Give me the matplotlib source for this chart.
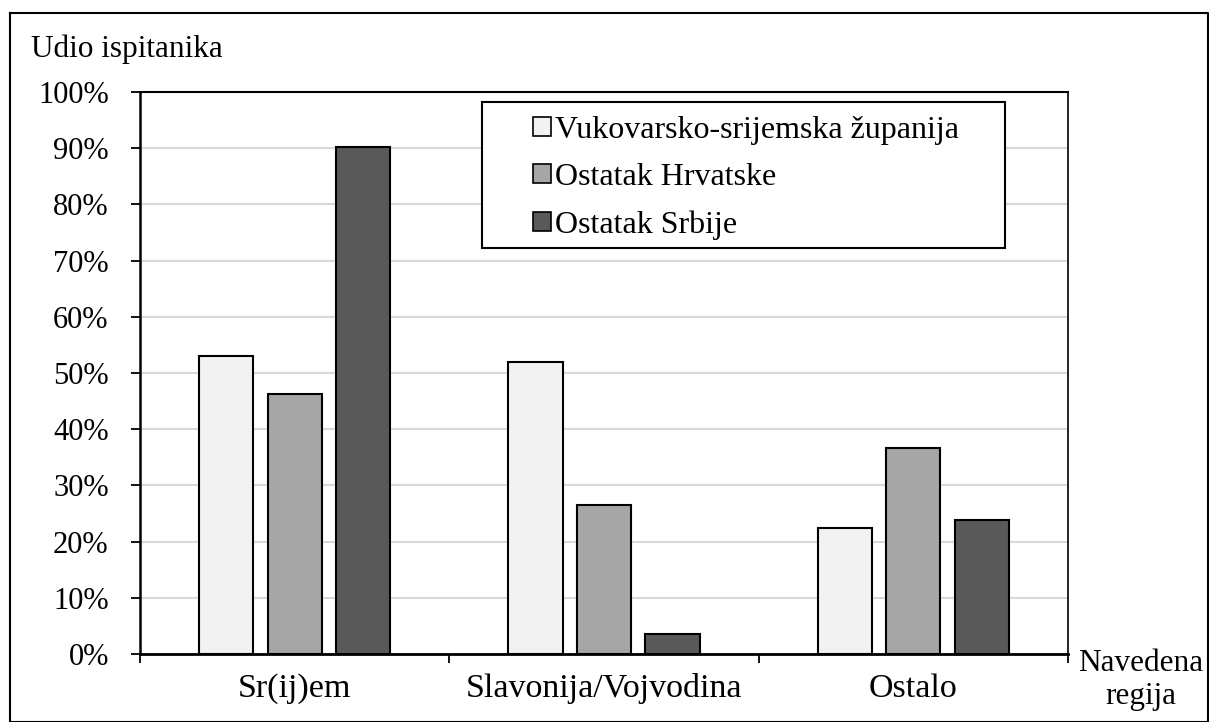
import matplotlib
matplotlib.use('Agg')
import matplotlib.pyplot as plt
import numpy as np
from matplotlib.lines import Line2D
from matplotlib.patches import Rectangle

plt.rcParams['font.family'] = ['Liberation Serif', 'DejaVu Serif']

# data
categories = ['Sr(ij)em', 'Slavonija/Vojvodina', 'Ostalo']
series_names = ['Vukovarsko-srijemska županija', 'Ostatak Hrvatske', 'Ostatak Srbije']
vukovar = [53.1, 52.0, 22.4]
hrvatska = [46.3, 26.5, 36.6]
srbija = [90.3, 3.6, 23.8]
colors = ['#f2f2f2', '#a6a6a6', '#595959']
yticks = [0, 10, 20, 30, 40, 50, 60, 70, 80, 90, 100]

fig = plt.figure(figsize=(12.09, 7.22), dpi=100)
ax = fig.add_axes([140 / 1209, 1 - 654 / 722, 928 / 1209, 562 / 722])

x = np.arange(len(categories))
width = 0.175
step = 0.2215
for i, (vals, name) in enumerate(zip([vukovar, hrvatska, srbija], series_names)):
    ax.bar(x + (i - 1) * step, vals, width, color=colors[i], edgecolor='black',
           linewidth=1.5, label=name, zorder=3)

ax.set_xlim(-0.5, 2.5)
ax.set_ylim(0, 100)
ax.set_yticks(yticks)
ax.set_yticklabels([f'{v}%' for v in yticks], fontsize=22)
ax.set_xticks(x)
ax.set_xticklabels(categories, fontsize=24.5)
ax.set_xticks([-0.5, 0.5, 1.5, 2.5], minor=True)
ax.tick_params(axis='x', which='major', length=0, pad=14)
ax.tick_params(axis='x', which='minor', length=6.5, width=1.3, direction='out')
ax.tick_params(axis='y', length=6.5, width=1.3, direction='out', pad=16)
ax.grid(axis='y', color='#d9d9d9', linewidth=1.5, zorder=0)

ax.spines['left'].set_linewidth(1.8)
ax.spines['bottom'].set_linewidth(2)
ax.spines['top'].set_linewidth(1.5)
ax.spines['right'].set_linewidth(1.2)

# legend box drawn separately to match the asymmetric padding
ax.add_patch(Rectangle((0.3685, 0.7224), 0.932 - 0.3685, 0.982 - 0.7224,
                       transform=ax.transAxes, facecolor='white', edgecolor='black',
                       linewidth=1.5, zorder=4))
leg = ax.legend(loc='upper left', bbox_to_anchor=(0.4235, 0.958), borderaxespad=0,
                fontsize=23, frameon=False,
                handlelength=0.55, handleheight=0.55, handletextpad=0.15,
                labelspacing=0.58, borderpad=0)
leg.set_zorder(5)
for h in leg.legend_handles:
    h.set_linewidth(1.2)

fig.text(31 / 1209, 1 - 57 / 722, 'Udio ispitanika', fontsize=22.5, va='baseline', ha='left')
fig.text(1141 / 1209, 1 - 671 / 722, 'Navedena', fontsize=22.5, va='baseline', ha='center')
fig.text(1141 / 1209, 1 - 704 / 722, 'regija', fontsize=22.5, va='baseline', ha='center')

# outer border
fig.add_artist(Line2D([9.5 / 1209, 9.5 / 1209, 1207.5 / 1209, 1207.5 / 1209, 9.5 / 1209],
                      [1 - 12.5 / 722, 0.5 / 722, 0.5 / 722, 1 - 12.5 / 722, 1 - 12.5 / 722],
                      transform=fig.transFigure, color='black', linewidth=1.5))

plt.savefig('out.png', dpi=100)
